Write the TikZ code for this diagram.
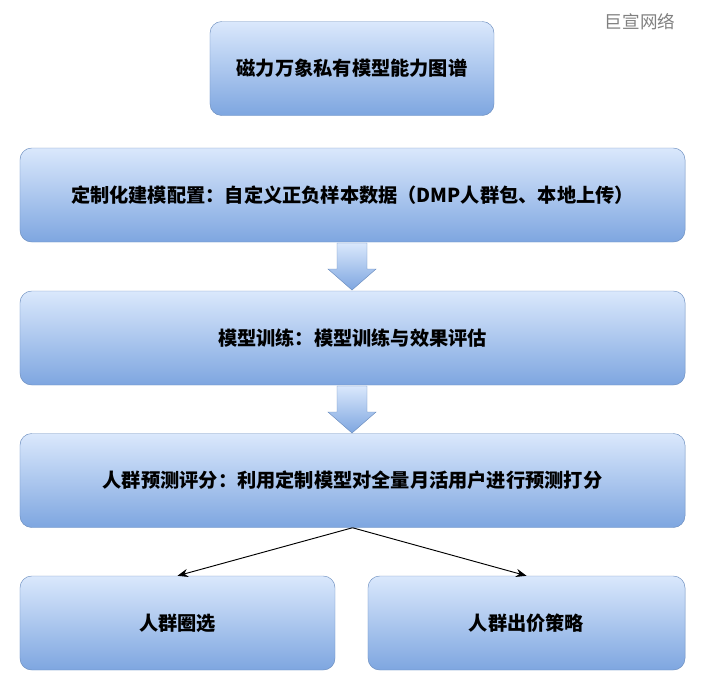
\documentclass[tikz,border=0pt]{standalone}
\usepackage{fontspec}
\setmainfont{Noto Sans CJK SC}
\usetikzlibrary{positioning,arrows.meta}
\definecolor{boxtop}{HTML}{DAE8FC}
\definecolor{boxbot}{HTML}{7EA6E0}
\definecolor{boxline}{HTML}{6C8EBF}
\tikzset{
  stage/.style={draw=boxline, rounded corners=10pt, top color=boxtop, bottom color=boxbot,
    minimum height=2.82cm, font=\fontsize{16.4}{18}\selectfont\bfseries, inner sep=0pt},
  down/.style={draw=boxline, top color=boxtop, bottom color=boxbot},
}
\newcommand{\blockdown}[1]{% block arrow pointing down, tip at y=#1+47
  \draw[down] (337,#1) -- (367,#1) -- (367,#1+26) -- (376,#1+26) -- (352,#1+47)
    -- (328,#1+26) -- (337,#1+26) -- cycle;}
\begin{document}
\begin{tikzpicture}[>={Stealth[length=9pt,width=7pt]}, x=0.03cm, y=-0.03cm]
  \useasboundingbox (0,0) rectangle (703,691);

  % title and main steps
  \node[stage, minimum width=8.52cm] (title) at (352,68.5) {磁力万象私有模型能力图谱};
  \node[stage, minimum width=19.95cm] (cfg) at (352.5,195) {定制化建模配置：自定义正负样本数据（DMP人群包、本地上传）};
  \node[stage, minimum width=19.95cm] (train) at (352.5,338) {模型训练：模型训练与效果评估};
  \node[stage, minimum width=19.95cm] (score) at (352.5,480.5) {人群预测评分：利用定制模型对全量月活用户进行预测打分};

  % final two boxes
  \node[stage, minimum width=9.45cm] (pick) at (177.5,623) {人群圈选};
  \node[stage, minimum width=9.51cm] (bid) at (526.5,623) {人群出价策略};

  % block arrows between steps
  \blockdown{243}
  \blockdown{386}

  % split arrows
  \draw[->, thick] (score.south) -- (pick.north);
  \draw[->, thick] (score.south) -- (bid.north);

  \node[text=gray, font=\fontsize{15}{17}\selectfont] (mark) at (640,22) {巨宣网络};
\end{tikzpicture}
\end{document}
